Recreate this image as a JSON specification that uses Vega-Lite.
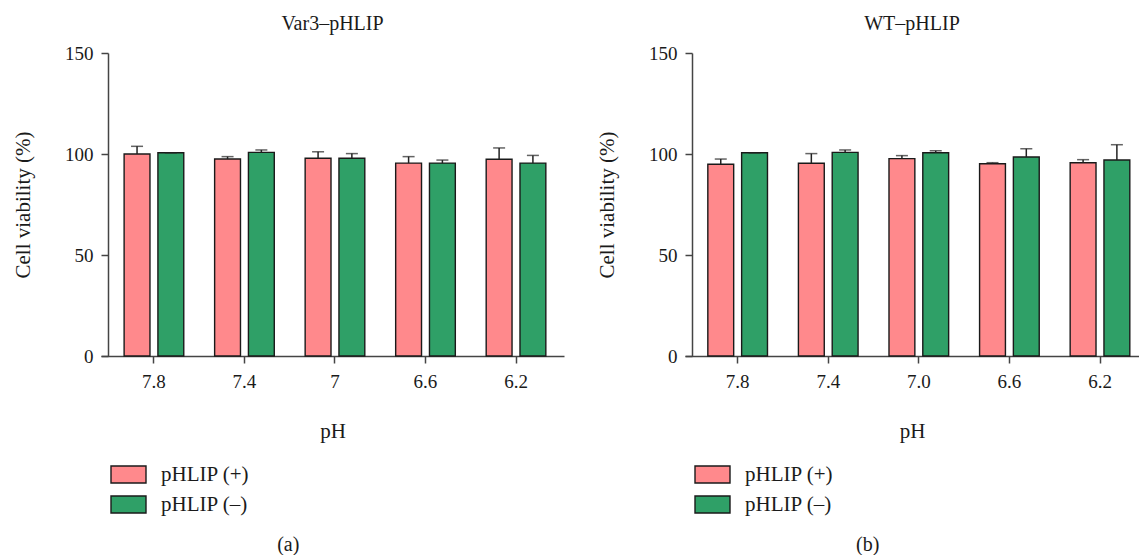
{
  "$schema": "https://vega.github.io/schema/vega-lite/v6.json",
  "padding": {"left": 12, "top": 14, "right": 0, "bottom": 0},
  "background": "white",
  "datasets": {
    "var3": [
      {"pH": "7.8", "group": "pHLIP (+)", "value": 100.0, "upper": 103.8},
      {"pH": "7.8", "group": "pHLIP (–)", "value": 100.6, "upper": 100.6},
      {"pH": "7.4", "group": "pHLIP (+)", "value": 97.5, "upper": 98.7},
      {"pH": "7.4", "group": "pHLIP (–)", "value": 100.8, "upper": 102.0},
      {"pH": "7", "group": "pHLIP (+)", "value": 97.9, "upper": 101.1},
      {"pH": "7", "group": "pHLIP (–)", "value": 97.9, "upper": 100.2},
      {"pH": "6.6", "group": "pHLIP (+)", "value": 95.5, "upper": 98.7},
      {"pH": "6.6", "group": "pHLIP (–)", "value": 95.5, "upper": 97.0},
      {"pH": "6.2", "group": "pHLIP (+)", "value": 97.4, "upper": 103.0},
      {"pH": "6.2", "group": "pHLIP (–)", "value": 95.5, "upper": 99.3}
    ],
    "wt": [
      {"pH": "7.8", "group": "pHLIP (+)", "value": 94.9, "upper": 97.5},
      {"pH": "7.8", "group": "pHLIP (–)", "value": 100.6, "upper": 100.6},
      {"pH": "7.4", "group": "pHLIP (+)", "value": 95.4, "upper": 100.2},
      {"pH": "7.4", "group": "pHLIP (–)", "value": 100.8, "upper": 102.0},
      {"pH": "7.0", "group": "pHLIP (+)", "value": 97.7, "upper": 99.2},
      {"pH": "7.0", "group": "pHLIP (–)", "value": 100.6, "upper": 101.6},
      {"pH": "6.6", "group": "pHLIP (+)", "value": 95.2, "upper": 95.7},
      {"pH": "6.6", "group": "pHLIP (–)", "value": 98.5, "upper": 102.6},
      {"pH": "6.2", "group": "pHLIP (+)", "value": 95.7, "upper": 97.2},
      {"pH": "6.2", "group": "pHLIP (–)", "value": 97.0, "upper": 104.6}
    ]
  },
  "config": {
    "font": "'Liberation Serif', 'Times New Roman', serif",
    "view": {"stroke": null},
    "style": {
      "guide-label": {"font": "'Liberation Serif', 'Times New Roman', serif"},
      "guide-title": {"font": "'Liberation Serif', 'Times New Roman', serif"},
      "group-title": {"font": "'Liberation Serif', 'Times New Roman', serif"}
    },
    "axis": {
      "domainColor": "#444444",
      "domainWidth": 1.5,
      "tickColor": "#444444",
      "tickWidth": 1.5,
      "tickSize": 7,
      "labelFont": "'Liberation Serif', 'Times New Roman', serif",
      "labelFontSize": 19,
      "labelColor": "#1a1a1a",
      "titleFont": "'Liberation Serif', 'Times New Roman', serif",
      "titleFontSize": 21,
      "titleFontWeight": "normal",
      "titleColor": "#1a1a1a",
      "grid": false
    },
    "legend": {
      "orient": "none",
      "direction": "vertical",
      "padding": 0,
      "symbolType": "M-1,-0.486H1V0.486H-1Z",
      "symbolSize": 1225,
      "symbolStrokeColor": "#1a1a1a",
      "symbolStrokeWidth": 1.4,
      "labelFont": "'Liberation Serif', 'Times New Roman', serif",
      "labelFontSize": 21,
      "labelColor": "#1a1a1a",
      "labelOffset": 14,
      "rowPadding": -2,
      "legendX": 9,
      "legendY": 403
    },
    "title": {
      "font": "'Liberation Serif', 'Times New Roman', serif",
      "fontSize": 20,
      "fontWeight": "normal",
      "color": "#1a1a1a"
    }
  },
  "spacing": 32,
  "resolve": {"scale": {"color": "independent"}},
  "hconcat": [
    {
      "title": {"text": "(a)", "orient": "bottom", "anchor": "middle", "offset": 19},
      "vconcat": [
        {
          "width": 463,
          "height": 303,
          "title": {"text": "Var3–pHLIP", "anchor": "middle", "frame": "group", "offset": 10},
          "data": {"name": "var3"},
          "encoding": {
            "x": {
              "field": "pH", "type": "nominal", "sort": ["7.8", "7.4", "7", "6.6", "6.2"],
              "scale": {"paddingInner": 0.341, "paddingOuter": 0.228, "align": 0.56},
              "axis": {"labelAngle": 0, "labelPadding": 9, "title": "pH", "titlePadding": 29}
            },
            "xOffset": {"field": "group", "type": "nominal", "sort": ["pHLIP (+)", "pHLIP (–)"], "scale": {"paddingInner": 0.235, "paddingOuter": 0}}
          },
          "layer": [
            {
              "mark": {"type": "bar", "stroke": "#1a1a1a", "strokeWidth": 1.4},
              "encoding": {
                "y": {"field": "value", "type": "quantitative", "scale": {"domain": [0, 150], "nice": false},
                  "axis": {"values": [0, 50, 100, 150], "offset": -7, "labelPadding": 8, "title": "Cell viability (%)", "titlePadding": 31}},
                "color": {"field": "group", "type": "nominal",
                  "scale": {"domain": ["pHLIP (+)", "pHLIP (–)"], "range": ["#FF898C", "#2FA067"]},
                  "legend": {"title": null}}
              }
            },
            {
              "mark": {"type": "rule", "color": "#222222", "strokeWidth": 1.5},
              "encoding": {
                "y": {"field": "value", "type": "quantitative"},
                "y2": {"field": "upper"}
              }
            },
            {
              "mark": {"type": "tick", "color": "#222222", "thickness": 1.5, "size": 12},
              "encoding": {
                "y": {"field": "upper", "type": "quantitative"}
              }
            }
          ]
        }
      ]
    },
    {
      "title": {"text": "(b)", "orient": "bottom", "anchor": "middle", "offset": 19},
      "vconcat": [
        {
          "width": 454,
          "height": 303,
          "title": {"text": "WT–pHLIP", "anchor": "middle", "frame": "group", "offset": 10},
          "data": {"name": "wt"},
          "encoding": {
            "x": {
              "field": "pH", "type": "nominal", "sort": ["7.8", "7.4", "7.0", "6.6", "6.2"],
              "scale": {"paddingInner": 0.341, "paddingOuter": 0.1765, "align": 0.714},
              "axis": {"labelAngle": 0, "labelPadding": 9, "title": "pH", "titlePadding": 29}
            },
            "xOffset": {"field": "group", "type": "nominal", "sort": ["pHLIP (+)", "pHLIP (–)"], "scale": {"paddingInner": 0.235, "paddingOuter": 0}}
          },
          "layer": [
            {
              "mark": {"type": "bar", "stroke": "#1a1a1a", "strokeWidth": 1.4},
              "encoding": {
                "y": {"field": "value", "type": "quantitative", "scale": {"domain": [0, 150], "nice": false},
                  "axis": {"values": [0, 50, 100, 150], "offset": -7, "labelPadding": 8, "title": "Cell viability (%)", "titlePadding": 31}},
                "color": {"field": "group", "type": "nominal",
                  "scale": {"domain": ["pHLIP (+)", "pHLIP (–)"], "range": ["#FF898C", "#2FA067"]},
                  "legend": {"title": null}}
              }
            },
            {
              "mark": {"type": "rule", "color": "#222222", "strokeWidth": 1.5},
              "encoding": {
                "y": {"field": "value", "type": "quantitative"},
                "y2": {"field": "upper"}
              }
            },
            {
              "mark": {"type": "tick", "color": "#222222", "thickness": 1.5, "size": 12},
              "encoding": {
                "y": {"field": "upper", "type": "quantitative"}
              }
            }
          ]
        }
      ]
    }
  ]
}
